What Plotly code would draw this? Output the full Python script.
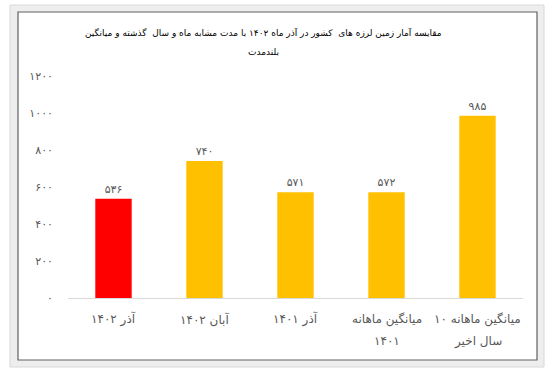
import plotly.graph_objects as go

categories = ["آذر ۱۴۰۲", "آبان ۱۴۰۲", "آذر ۱۴۰۱", "میانگین ماهانه<br>۱۴۰۱", "میانگین ماهانه ۱۰<br>سال اخیر"]
values = [536, 740, 571, 572, 985]
value_labels = ["۵۳۶", "۷۴۰", "۵۷۱", "۵۷۲", "۹۸۵"]
y_tick_vals = [0, 200, 400, 600, 800, 1000, 1200]
y_tick_text = ["۰", "۲۰۰", "۴۰۰", "۶۰۰", "۸۰۰", "۱۰۰۰", "۱۲۰۰"]
title_lines = ["مقایسه آمار زمین لرزه های  کشور در آذر ماه ۱۴۰۲ با مدت مشابه ماه و سال  گذشته و میانگین",
               "بلندمدت"]

bar_colors = ["#FF0000", "#FFC000", "#FFC000", "#FFC000", "#FFC000"]

W, H = 554, 374
L, R, T, B = 68, 523, 76, 298
FONT = "DejaVu Sans"


def px(x):
    return (x - L) / (R - L)


def py(y):
    return (B - y) / (B - T)


fig = go.Figure()
fig.add_trace(go.Bar(
    x=categories, y=values, marker=dict(color=bar_colors, line=dict(width=0)),
    width=0.4, text=value_labels, textposition="outside",
    textfont=dict(family=FONT, size=11, color="#595959"), cliponaxis=False,
))

shapes = [
    dict(type="rect", xref="paper", yref="paper", x0=px(10), x1=px(544), y0=py(5), y1=py(367),
         fillcolor="#eeeeee", line=dict(color="#d8d8d8", width=1), layer="below"),
    dict(type="rect", xref="paper", yref="paper", x0=px(18), x1=px(537), y0=py(12), y1=py(360),
         fillcolor="#ffffff", line=dict(color="#606060", width=1.2), layer="below"),
]

annotations = []
for i, line in enumerate(title_lines):
    annotations.append(dict(text=line, xref="paper", yref="paper", x=px(263), y=py(32 + 20 * i),
                            showarrow=False,
                            font=dict(family=FONT, size=9, color="#000000"),
                            xanchor="center", yanchor="middle"))
for cat in categories:
    for j, line in enumerate(cat.split("<br>")):
        annotations.append(dict(text=line, xref="x", yref="paper", x=cat, y=py(319 + 22 * j),
                                showarrow=False, font=dict(family=FONT, size=12, color="#595959"),
                                xanchor="center", yanchor="middle"))

fig.update_layout(
    width=W, height=H,
    margin=dict(l=L, r=W - R, t=T, b=H - B),
    paper_bgcolor="#ffffff", plot_bgcolor="rgba(0,0,0,0)",
    shapes=shapes, showlegend=False, bargap=0.6,
    annotations=annotations,
    xaxis=dict(showgrid=False, showline=True, linecolor="#d9d9d9", linewidth=1,
               showticklabels=False, ticks=""),
    yaxis=dict(range=[0, 1200], tickvals=y_tick_vals, ticktext=y_tick_text, showgrid=False,
               zeroline=False, showline=False, ticks="", ticklabelstandoff=14,
               tickfont=dict(family=FONT, size=11, color="#595959")),
)

fig.write_html("out.html")
